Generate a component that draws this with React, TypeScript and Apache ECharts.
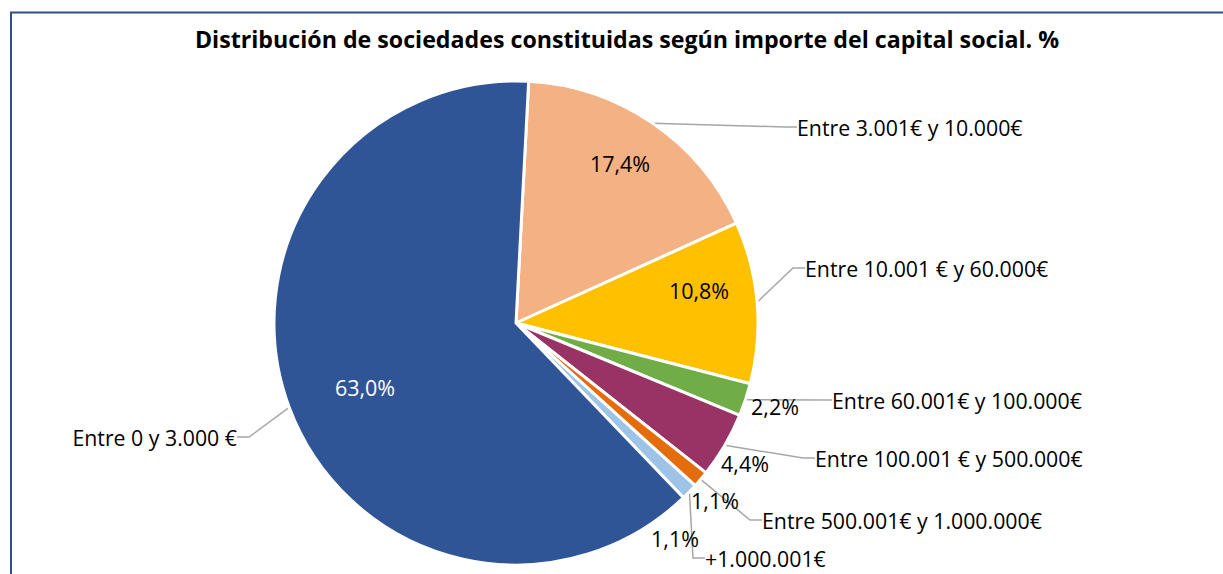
import React, { useEffect, useRef } from "react";
import * as echarts from "echarts";

const TITLE = "Distribución de sociedades constituidas según importe del capital social. %";
const categories = [
  "Entre 3.001€ y 10.000€",
  "Entre 10.001 € y 60.000€",
  "Entre 60.001€ y 100.000€",
  "Entre 100.001 € y 500.000€",
  "Entre 500.001€ y 1.000.000€",
  "+1.000.001€",
  "Entre 0 y 3.000 €",
];
const values = [17.4, 10.8, 2.2, 4.4, 1.1, 1.1, 63.0];
const colors = ["#F4B183", "#FFC000", "#70AD47", "#993366", "#E46C0A", "#9DC3E6", "#2F5597"];

// label placement (styling only)
const catLabelPos: [number, number, string][] = [
  [797, 127, "left"],
  [805, 268, "left"],
  [832, 400, "left"],
  [815, 458, "left"],
  [762, 520, "left"],
  [705, 558, "left"],
  [237, 437, "right"],
];
const valLabelPos: [number, number][] = [
  [620, 163],
  [699, 290],
  [775, 406],
  [745, 463],
  [715, 500],
  [675, 538],
  [365, 387],
];

const FONT = "'Open Sans', 'Noto Sans', sans-serif";

export default function App() {
  const ref = useRef<HTMLDivElement>(null);
  useEffect(() => {
    const chart = echarts.init(ref.current!, null, { renderer: "svg" });
    const data = categories.map((name, i) => ({
      name,
      value: values[i],
      itemStyle: { color: colors[i] },
    }));
    chart.setOption({
      animation: false,
      backgroundColor: "#ffffff",
      title: {
        text: TITLE,
        left: 622,
        top: 22,
        textAlign: "center",
        textStyle: { fontFamily: FONT, fontWeight: "bold", fontSize: 23.2, color: "#000" },
      },
      graphic: [
        {
          type: "rect",
          shape: { x: 11, y: 12.5, width: 1300, height: 700 },
          style: { fill: "none", stroke: "#2F4F86", lineWidth: 2 },
          silent: true,
          z: -1,
        },
      ],
      series: [
        {
          type: "pie",
          center: [516, 323],
          radius: 242,
          startAngle: 87,
          clockwise: true,
          avoidLabelOverlap: false,
          itemStyle: { borderColor: "#ffffff", borderWidth: 3 },
          data: data.map((d, i) => ({
            ...d,
            label: { color: i === 6 ? "#ffffff" : "#000000" },
          })),
          label: {
            show: true,
            position: "inside",
            fontFamily: FONT,
            fontSize: 21.5,
            formatter: (p: any) => p.value.toFixed(1).replace(".", ",") + "%",
          },
          labelLine: { show: false },
          labelLayout: (p: any) => ({
            x: valLabelPos[p.dataIndex][0],
            y: valLabelPos[p.dataIndex][1],
            align: "center",
            verticalAlign: "middle",
          }),
        },
        {
          type: "pie",
          center: [516, 323],
          radius: 242,
          startAngle: 87,
          clockwise: true,
          silent: true,
          avoidLabelOverlap: false,
          itemStyle: { color: "rgba(0,0,0,0)", borderWidth: 0 },
          data: categories.map((name, i) => ({ name, value: values[i] })),
          label: {
            show: true,
            position: "outside",
            fontFamily: FONT,
            fontSize: 21.3,
            color: "#000000",
            formatter: "{b}",
          },
          labelLine: {
            show: true,
            length: 10,
            length2: 12,
            lineStyle: { color: "#A6A6A6", width: 1.5 },
          },
          labelLayout: (p: any) => ({
            x: catLabelPos[p.dataIndex][0],
            y: catLabelPos[p.dataIndex][1],
            align: catLabelPos[p.dataIndex][2],
            verticalAlign: "middle",
          }),
        },
      ],
    });
    return () => chart.dispose();
  }, []);
  return (
    <div
      ref={ref}
      style={{ position: "fixed", left: 0, top: 0, width: 1223, height: 574, background: "#fff" }}
    />
  );
}
